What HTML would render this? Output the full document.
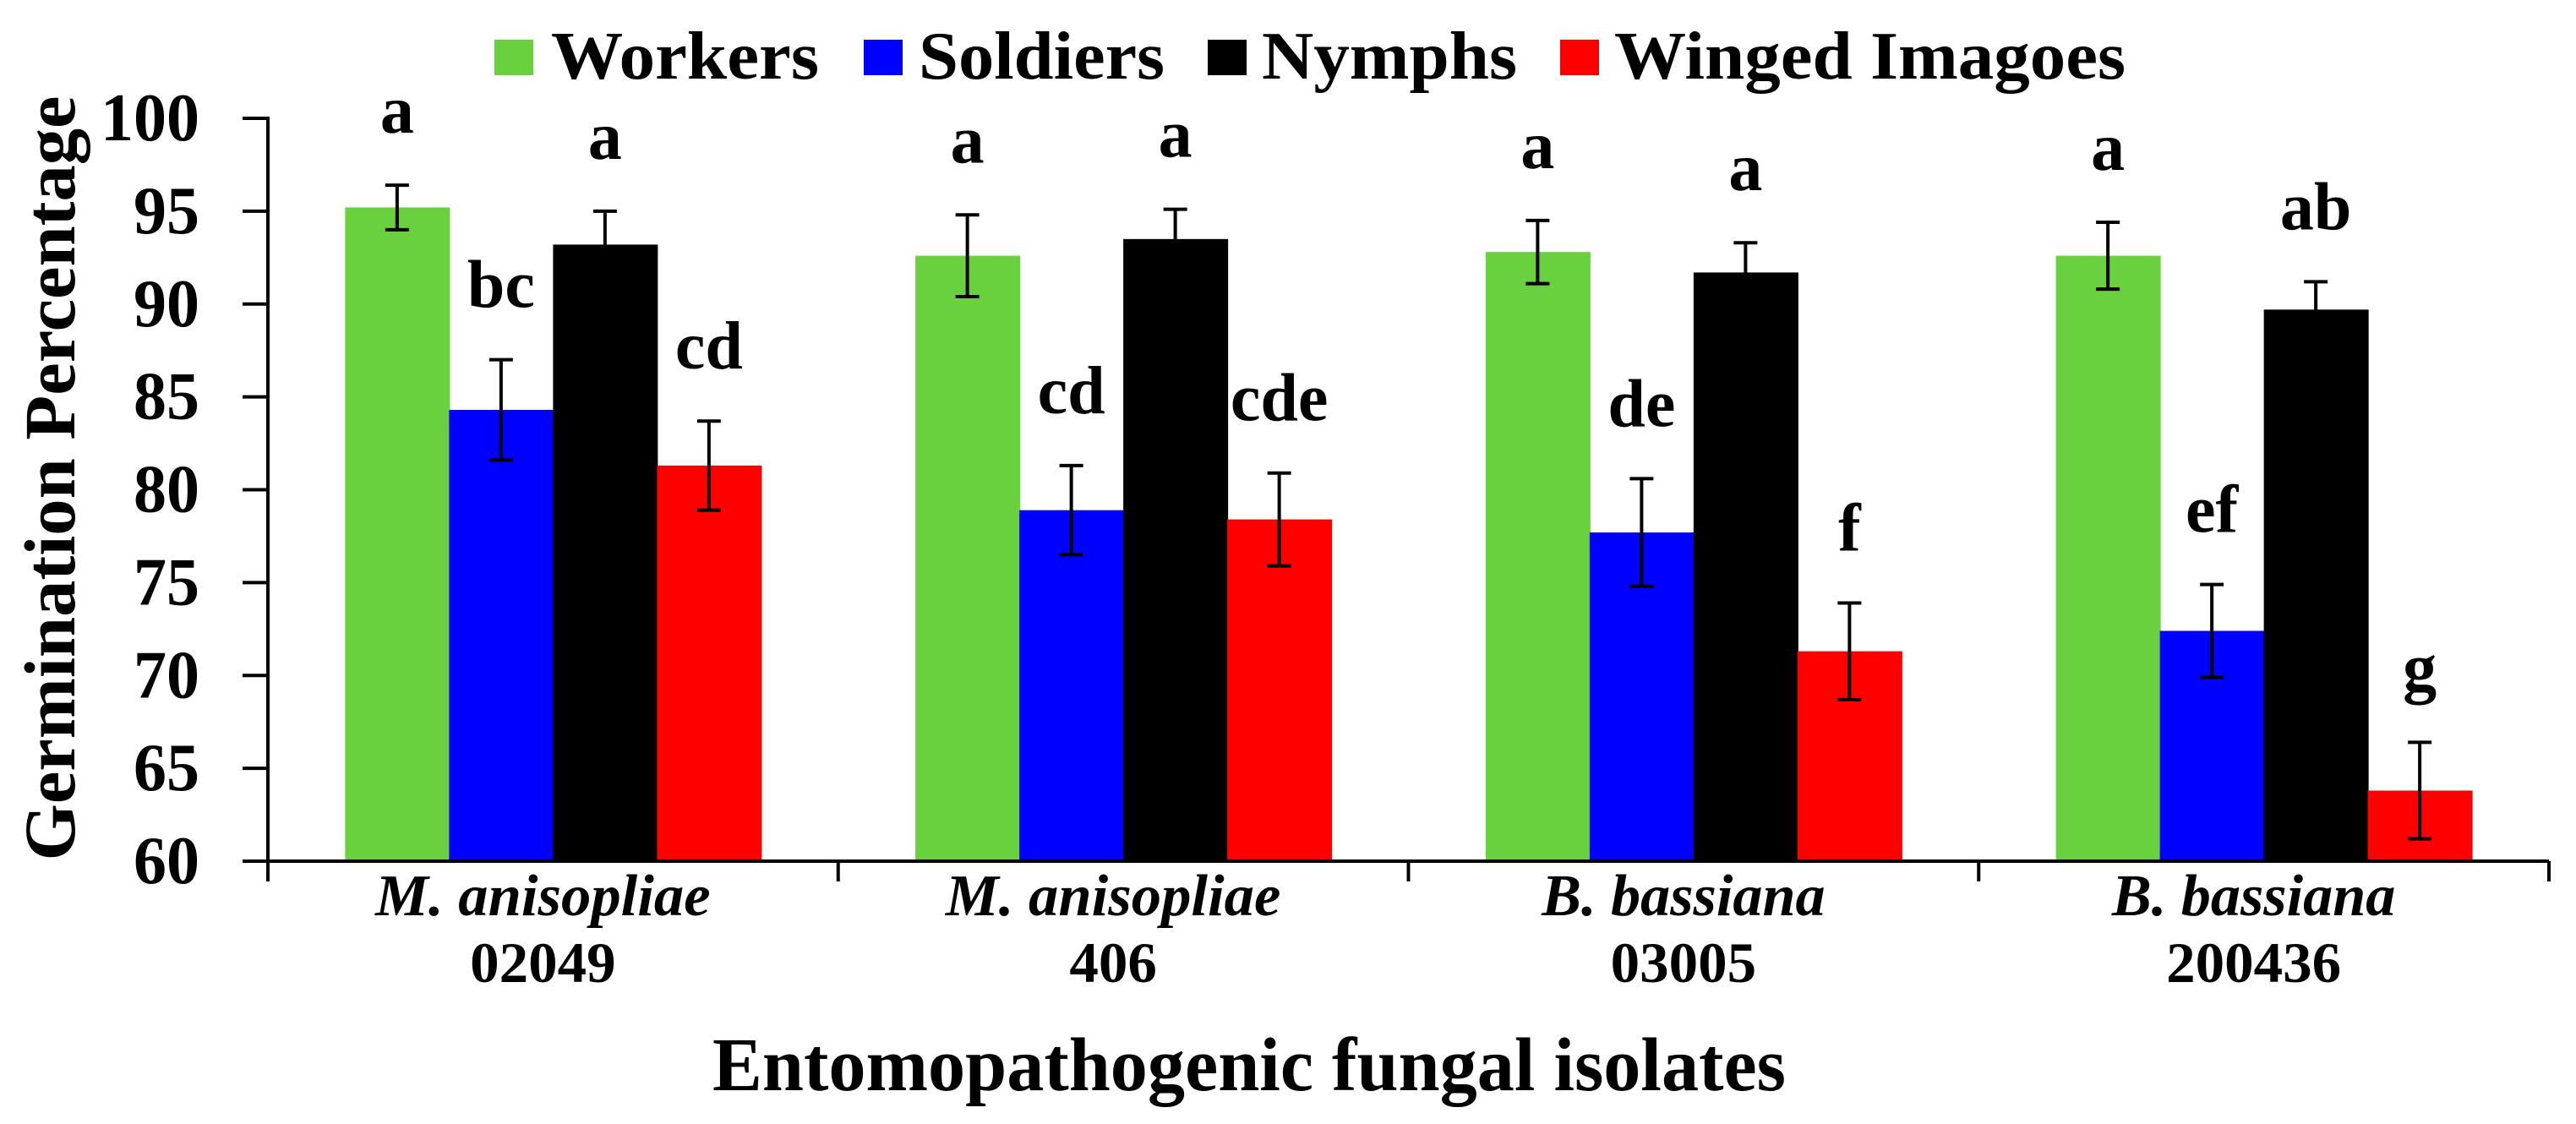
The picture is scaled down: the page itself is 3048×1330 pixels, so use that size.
<!DOCTYPE html>
<html><head><meta charset="utf-8"><style>
html,body{margin:0;padding:0;background:#fff;}
svg{display:block;font-family:"Liberation Serif",serif;font-weight:bold;}
</style></head><body>
<svg id="chart" width="3048" height="1330" viewBox="0 0 3048 1330">
<g id="legend"></g>
<g id="plot"></g>
<text x="88" y="566" font-size="86" text-anchor="middle" transform="rotate(-90 88 566)" textLength="905" lengthAdjust="spacingAndGlyphs">Germination  Percentage</text>
<text x="843" y="1290" font-size="90" textLength="1270" lengthAdjust="spacingAndGlyphs">Entomopathogenic fungal isolates</text>
</svg>
<script>
const categories = ["M. anisopliae|02049","M. anisopliae|406","B. bassiana|03005","B. bassiana|200436"];
const seriesNames = ["Workers","Soldiers","Nymphs","Winged Imagoes"];
const workers = [95.2, 92.6, 92.8, 92.6];
const soldiers = [84.3, 78.9, 77.7, 72.4];
const nymphs = [93.2, 93.5, 91.7, 89.7];
const imagoes = [81.3, 78.4, 71.3, 63.8];
const workersErr = [1.2, 2.2, 1.7, 1.8];
const soldiersErr = [2.7, 2.4, 2.9, 2.5];
const nymphsErr = [1.8, 1.6, 1.6, 1.5];
const imagoesErr = [2.4, 2.5, 2.6, 2.6];
const workersLetters = ["a","a","a","a"];
const soldiersLetters = ["bc","cd","de","ef"];
const nymphsLetters = ["a","a","a","ab"];
const imagoesLetters = ["cd","cde","f","g"];
const yTicks = [60,65,70,75,80,85,90,95,100];

const NS="http://www.w3.org/2000/svg";
const colors=["#6ad13e","#0000ff","#000000","#ff0000"];
const X0=317, X1=3016, YMIN=60, YMAX=100, PY0=1019, PY1=140;
const y = v => PY0 - (v-YMIN)/(YMAX-YMIN)*(PY0-PY1);
const catW=(X1-X0)/categories.length;
const barW=123;
const x = (ci,si) => X0 + catW*ci + catW/2 - barW*2 + si*barW;
function mk(tag,attrs,parent){const e=document.createElementNS(NS,tag);for(const k in attrs)e.setAttribute(k,attrs[k]);parent.appendChild(e);return e;}
const plot=document.getElementById('plot');
const vals=[workers,soldiers,nymphs,imagoes];
const errs=[workersErr,soldiersErr,nymphsErr,imagoesErr];
const lets=[workersLetters,soldiersLetters,nymphsLetters,imagoesLetters];
const keys=["workers","soldiers","nymphs","imagoes"];
for(let ci=0;ci<categories.length;ci++){
  for(let si=0;si<4;si++){
    const v=vals[si][ci], e=errs[si][ci];
    const bx=x(ci,si);
    const r=mk('rect',{x:bx,y:y(v),width:barW+1,height:PY0-y(v),fill:colors[si]},plot);
    
    
    const cx=bx+barW/2;
    const eg=mk('g',{stroke:'#000','stroke-width':4},plot);
    
    
    mk('line',{x1:cx,x2:cx,y1:y(v+e),y2:y(v-e)},eg);
    mk('line',{x1:cx-14,x2:cx+14,y1:y(v+e),y2:y(v+e)},eg);
    mk('line',{x1:cx-14,x2:cx+14,y1:y(v-e),y2:y(v-e)},eg);
    const t=mk('text',{x:cx,y:y(v+e)-62,'font-size':80,'text-anchor':'middle'},plot);
    t.textContent=lets[si][ci];
    
    
  }
  const parts=categories[ci].split('|');
  const cxc=X0+catW*ci+catW/2-12;
  const t1=mk('text',{x:cxc,y:1083,'font-size':70,'font-style':'italic','text-anchor':'middle',textLength:parts[0].length*30.5,lengthAdjust:'spacingAndGlyphs'},plot);
  t1.textContent=parts[0];
  
  
  const t2=mk('text',{x:cxc,y:1162,'font-size':68,'text-anchor':'middle',textLength:parts[1].length*34.5,lengthAdjust:'spacingAndGlyphs'},plot);
  t2.textContent=parts[1];
  
  
}
const ax=mk('g',{stroke:'#000','stroke-width':4},plot);


mk('line',{x1:X0,x2:X0,y1:PY1-2,y2:PY0+24},ax);
mk('line',{x1:X0-30,x2:X1,y1:PY0,y2:PY0},ax);
for(let i=0;i<=categories.length;i++){const xx=X0+catW*i;mk('line',{x1:xx,x2:xx,y1:PY0,y2:PY0+24},ax);}
for(const tv of yTicks){
  mk('line',{x1:X0-30,x2:X0,y1:y(tv),y2:y(tv)},ax);
  const s=String(tv);
  const t=mk('text',{x:236,y:y(tv)+26,'font-size':80,'text-anchor':'end',textLength:s.length*39,lengthAdjust:'spacingAndGlyphs'},plot);
  t.textContent=s;
  
  
}
const lg=document.getElementById('legend');
const sqX=[585,1022,1429,1846], txX=[652,1087,1493,1910], txW=[317,291,302,605];
for(let i=0;i<4;i++){
  const s=mk('rect',{x:sqX[i],y:47,width:46,height:42,fill:colors[i]},lg);
  
  
  const t=mk('text',{x:txX[i],y:93,'font-size':80,textLength:txW[i],lengthAdjust:'spacingAndGlyphs'},lg);
  t.textContent=seriesNames[i];
  
  
}
</script>
</body></html>
